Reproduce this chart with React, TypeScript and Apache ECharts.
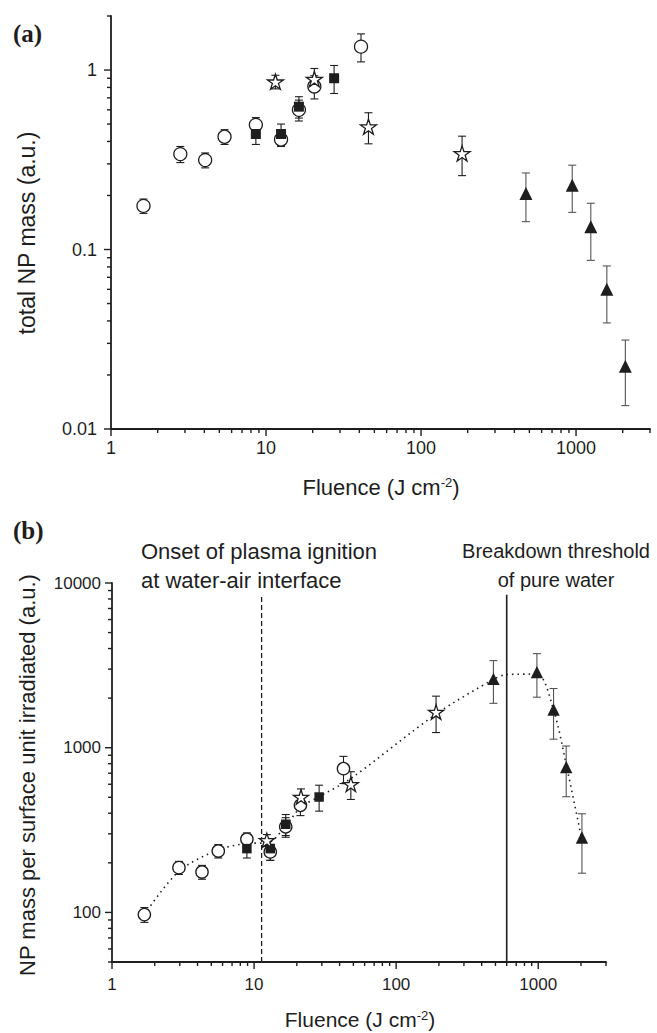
import React, { useEffect, useRef } from 'react';
import * as echarts from 'echarts';

// ---------- Panel (a): total NP mass ----------
const circleXA = [1.62, 2.8, 4.05, 5.4, 8.6, 12.5, 16.3, 20.5, 41];
const circleYA = [0.175, 0.34, 0.315, 0.425, 0.495, 0.41, 0.6, 0.81, 1.35];
const circleErrA = [0.016, 0.035, 0.03, 0.04, 0.048, 0.035, 0.08, 0.12, 0.24];
const squareXA = [8.6, 12.5, 16.3, 27.5];
const squareYA = [0.44, 0.44, 0.625, 0.9];
const squareErrA = [0.055, 0.06, 0.085, 0.16];
const starXA = [11.5, 20.5, 45.8, 184];
const starYA = [0.86, 0.89, 0.483, 0.343];
const starErrA = [0.075, 0.13, 0.095, 0.085];
const triXA = [475, 945, 1245, 1580, 2080];
const triYA = [0.205, 0.228, 0.134, 0.06, 0.0224];
const triErrA = [0.062, 0.067, 0.047, 0.021, 0.0089];

// ---------- Panel (b): NP mass per surface unit irradiated ----------
const circleXB = [1.69, 2.96, 4.3, 5.6, 8.9, 13, 16.7, 21.2, 42.6];
const circleYB = [97, 187, 176, 236, 278, 233, 331, 447, 746];
const circleErrB = [10, 17, 17, 22, 26, 26, 45, 60, 140];
const squareXB = [8.9, 13, 16.7, 28.7];
const squareYB = [244, 244, 343, 502];
const squareErrB = [30, 37, 50, 90];
const starXB = [12.3, 21.4, 48, 191];
const starYB = [274, 502, 600, 1646];
const starErrB = [23, 60, 115, 410];
const triXB = [484, 979, 1282, 1574, 2031];
const triYB = [2620, 2876, 1707, 764, 285];
const triErrB = [760, 850, 580, 260, 112];
const fitXB = [1.69, 2.96, 5.6, 8.9, 12.5, 16.7, 21.3, 28.7, 48, 191, 484, 600, 979, 1282, 1574, 2031];
const fitYB = [97, 178, 240, 262, 265, 335, 435, 505, 650, 1600, 2600, 2780, 2800, 1700, 790, 275];
const plasmaOnset = 11.3;
const breakdownThreshold = 600;
const markerLineTop = 8500;

// ---------- Axes ----------
const xMin = 1, xMax = 3000;
const yMinA = 0.01, yMaxA = 2;
const yMinB = 50, yMaxB = 10000;
const xMajorTicks = [1, 10, 100, 1000];
const xMinorTicks = [2, 3, 4, 5, 6, 7, 8, 9, 20, 30, 40, 50, 60, 70, 80, 90, 200, 300, 400, 500, 600, 700, 800, 900, 2000, 3000];
const yMajorTicksA = [0.01, 0.1, 1];
const yMinorTicksA = [0.02, 0.03, 0.04, 0.05, 0.06, 0.07, 0.08, 0.09, 0.2, 0.3, 0.4, 0.5, 0.6, 0.7, 0.8, 0.9, 2];
const yMajorTicksB = [100, 1000, 10000];
const yMinorTicksB = [50, 60, 70, 80, 90, 200, 300, 400, 500, 600, 700, 800, 900, 2000, 3000, 4000, 5000, 6000, 7000, 8000, 9000];

const FONT = '"Liberation Sans", Arial, Helvetica, sans-serif';
const SERIF = '"Liberation Serif", "Times New Roman", serif';
const INK = '#1e1e1e';
const STAR = 'path://M50 0 L61.2 34.5 L97.6 34.5 L68.2 55.9 L79.4 90.5 L50 69.1 L20.6 90.5 L31.8 55.9 L2.4 34.5 L38.8 34.5 Z';

const zip2 = (xs: number[], ys: number[]) => xs.map((x, i) => [x, ys[i]]);
const zip3 = (xs: number[], ys: number[], es: number[]) => xs.map((x, i) => [x, ys[i], es[i]]);

function errorBars(data: number[][], idx: number, color: string) {
  return {
    type: 'custom', xAxisIndex: idx, yAxisIndex: idx, z: 2, silent: true, data,
    encode: { x: 0, y: 1 },
    renderItem: (_p: any, api: any) => {
      const x = api.value(0), y = api.value(1), e = api.value(2);
      const t = api.coord([x, y + e]);
      const b = api.coord([x, y - e]);
      const w = 4;
      const style = { stroke: color, lineWidth: 1.1 };
      return {
        type: 'group', children: [
          { type: 'line', shape: { x1: t[0], y1: t[1], x2: b[0], y2: b[1] }, style },
          { type: 'line', shape: { x1: t[0] - w, y1: t[1], x2: t[0] + w, y2: t[1] }, style },
          { type: 'line', shape: { x1: b[0] - w, y1: b[1], x2: b[0] + w, y2: b[1] }, style },
        ],
      };
    },
  };
}

function xTicks(values: number[], yBase: number, len: number, idx: number) {
  return {
    type: 'custom', xAxisIndex: idx, yAxisIndex: idx, z: 6, silent: true, clip: false,
    data: values.map((v) => [v, yBase]), encode: { x: 0, y: 1 },
    renderItem: (_p: any, api: any) => {
      const c = api.coord([api.value(0), api.value(1)]);
      return { type: 'line', shape: { x1: c[0], y1: c[1], x2: c[0], y2: c[1] + len }, style: { stroke: INK, lineWidth: 1.4 } };
    },
  };
}

function yTicks(values: number[], xBase: number, len: number, idx: number) {
  return {
    type: 'custom', xAxisIndex: idx, yAxisIndex: idx, z: 6, silent: true, clip: false,
    data: values.map((v) => [xBase, v]), encode: { x: 0, y: 1 },
    renderItem: (_p: any, api: any) => {
      const c = api.coord([api.value(0), api.value(1)]);
      return { type: 'line', shape: { x1: c[0], y1: c[1], x2: c[0] - len, y2: c[1] }, style: { stroke: INK, lineWidth: 1.4 } };
    },
  };
}

function scatterSet(idx: number, cx: number[], cy: number[], sx: number[], sy: number[], stx: number[], sty: number[], tx: number[], ty: number[], k: number) {
  return [
    { type: 'scatter', xAxisIndex: idx, yAxisIndex: idx, z: 4, symbol: 'circle', symbolSize: 13 * k, data: zip2(cx, cy), itemStyle: { color: '#fff', borderColor: INK, borderWidth: 1.3, opacity: 1 } },
    { type: 'scatter', xAxisIndex: idx, yAxisIndex: idx, z: 4, symbol: 'rect', symbolSize: 10 * k, data: zip2(sx, sy), itemStyle: { color: INK, opacity: 1 } },
    { type: 'scatter', xAxisIndex: idx, yAxisIndex: idx, z: 4, symbol: STAR, symbolKeepAspect: true, symbolSize: 16 * k, data: zip2(stx, sty), itemStyle: { color: '#fff', borderColor: INK, borderWidth: 1.3, opacity: 1 } },
    { type: 'scatter', xAxisIndex: idx, yAxisIndex: idx, z: 4, symbol: 'triangle', symbolSize: 13 * k, data: zip2(tx, ty), itemStyle: { color: INK, opacity: 1 } },
  ];
}

const fmt = (v: number) => String(Number(v.toPrecision(6)));

function axisBase(min: number, max: number, idx: number, fontSize: number, margin: number, extra: any) {
  return {
    type: 'log', logBase: 10, min, max, gridIndex: idx,
    axisLine: { show: true, onZero: false, lineStyle: { color: INK, width: 1.8 } },
    axisTick: { show: false }, minorTick: { show: false }, splitLine: { show: false },
    axisLabel: { fontSize, color: INK, fontFamily: FONT, margin, formatter: fmt, ...extra },
  };
}

function text(x: number, y: number, t: string, size: number, opts: any = {}) {
  return {
    type: 'text', x, y, rotation: opts.rotation || 0, silent: true,
    style: {
      text: t, fontSize: size, fontFamily: opts.family || FONT, fontWeight: opts.weight || 'normal',
      fill: INK, align: opts.align || 'left', verticalAlign: 'middle', rich: opts.rich,
    },
  };
}

const supRich = { sup: { fontSize: 13, fontFamily: FONT, fill: INK, verticalAlign: 'top', lineHeight: 12 } };

export default function App() {
  const ref = useRef<HTMLDivElement>(null);
  useEffect(() => {
    document.body.style.margin = '0';
    if (!ref.current) return;
    const chart = echarts.init(ref.current, null, { renderer: 'svg' });
    const option: any = {
      animation: false,
      backgroundColor: '#fff',
      grid: [
        { left: 111, top: 16, width: 539, height: 413 },
        { left: 112, top: 583, width: 494, height: 379 },
      ],
      xAxis: [
        axisBase(xMin, xMax, 0, 18, 10, { showMaxLabel: false }),
        axisBase(xMin, xMax, 1, 17, 14, { showMaxLabel: false }),
      ],
      yAxis: [
        axisBase(yMinA, yMaxA, 0, 18, 14, { showMaxLabel: false }),
        axisBase(yMinB, yMaxB, 1, 17, 11, { showMinLabel: false }),
      ],
      series: [
        errorBars(zip3(circleXA, circleYA, circleErrA), 0, INK),
        errorBars(zip3(squareXA, squareYA, squareErrA), 0, INK),
        errorBars(zip3(starXA, starYA, starErrA), 0, INK),
        errorBars(zip3(triXA, triYA, triErrA), 0, '#555'),
        ...scatterSet(0, circleXA, circleYA, squareXA, squareYA, starXA, starYA, triXA, triYA, 1),
        xTicks(xMajorTicks, yMinA, 7, 0),
        xTicks(xMinorTicks, yMinA, 4, 0),
        yTicks(yMajorTicksA, xMin, 7, 0),
        yTicks(yMinorTicksA, xMin, 4, 0),

        {
          type: 'line', xAxisIndex: 1, yAxisIndex: 1, z: 1, symbol: 'none', smooth: 0.3,
          data: zip2(fitXB, fitYB), lineStyle: { color: INK, width: 1.6, type: [1.5, 4] },
        },
        {
          type: 'line', xAxisIndex: 1, yAxisIndex: 1, z: 1, symbol: 'none',
          data: [[plasmaOnset, yMinB], [plasmaOnset, markerLineTop]], lineStyle: { color: INK, width: 1.3, type: [5, 3] },
        },
        {
          type: 'line', xAxisIndex: 1, yAxisIndex: 1, z: 1, symbol: 'none',
          data: [[breakdownThreshold, yMinB], [breakdownThreshold, markerLineTop]], lineStyle: { color: INK, width: 1.6 },
        },
        errorBars(zip3(circleXB, circleYB, circleErrB), 1, INK),
        errorBars(zip3(squareXB, squareYB, squareErrB), 1, INK),
        errorBars(zip3(starXB, starYB, starErrB), 1, INK),
        errorBars(zip3(triXB, triYB, triErrB), 1, '#555'),
        ...scatterSet(1, circleXB, circleYB, squareXB, squareYB, starXB, starYB, triXB, triYB, 0.95),
        xTicks(xMajorTicks, yMinB, 7, 1),
        xTicks(xMinorTicks, yMinB, 4, 1),
        yTicks(yMajorTicksB, xMin, 7, 1),
        yTicks(yMinorTicksB, xMin, 4, 1),
      ],
      graphic: [
        text(13, 33, '(a)', 25, { family: SERIF, weight: 'bold' }),
        text(13, 530, '(b)', 25, { family: SERIF, weight: 'bold' }),
        text(27, 233, 'total NP mass (a.u.)', 23, { align: 'center', rotation: Math.PI / 2 }),
        text(381, 487, 'Fluence (J cm{sup|-2})', 22, { align: 'center', rich: supRich }),
        text(27, 775, 'NP mass per surface unit irradiated (a.u.)', 22, { align: 'center', rotation: Math.PI / 2 }),
        text(360, 1019, 'Fluence (J cm{sup|-2})', 21, { align: 'center', rich: supRich }),
        text(141, 551, 'Onset of plasma ignition', 22),
        text(141, 580, 'at water-air interface', 22),
        text(556, 551, 'Breakdown threshold', 20, { align: 'center' }),
        text(556, 580, 'of pure water', 20, { align: 'center' }),
      ],
    };
    chart.setOption(option);
    return () => chart.dispose();
  }, []);
  return <div ref={ref} style={{ width: 657, height: 1033 }} />;
}
